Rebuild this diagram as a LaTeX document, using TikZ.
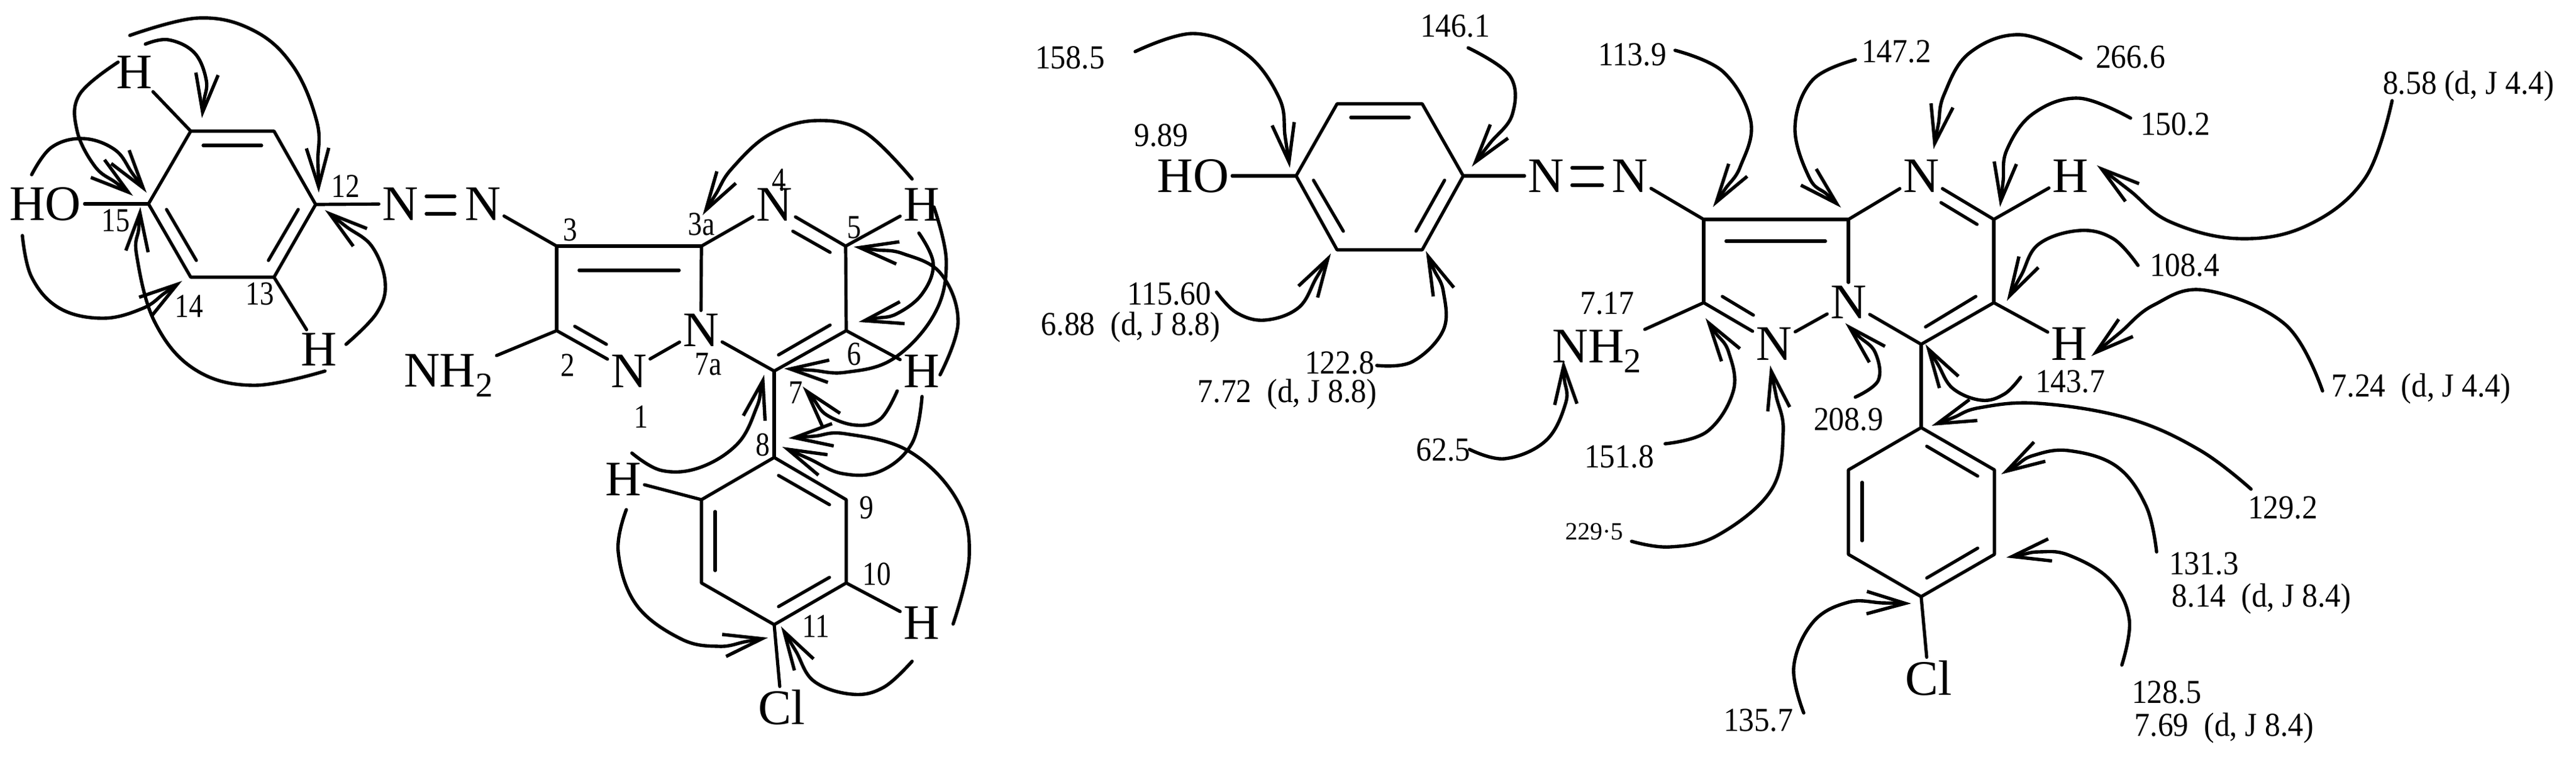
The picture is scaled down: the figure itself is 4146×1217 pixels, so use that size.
\documentclass[tikz,border=0pt]{standalone}
\usepackage{fontspec}
\setmainfont{Liberation Serif}
\usetikzlibrary{arrows.meta,bending,calc}
\tikzset{
  bond/.style={line width=2.6pt,line cap=round,line join=round},
  inner/.style={line width=2.6pt,line cap=round},
  curvearrow/.style={line width=2.7pt,line cap=round,-{Straight Barb[length=31pt,width=18pt,line width=2.7pt,flex]}},
  atom/.style={inner sep=2.5pt,font=\fontsize{40}{40}\selectfont},
  shift label/.style={inner sep=0pt,font=\fontsize{27}{27}\selectfont},
  num/.style={inner sep=0pt,font=\fontsize{27}{27}\selectfont},
}
\newcommand{\subtwo}{\raisebox{-8pt}{\fontsize{28}{28}\selectfont 2}}
\newcommand{\cn}[1]{\scalebox{.84}[1]{#1}}
\newcommand{\rlab}[1]{\scalebox{.92}[1]{#1}}
\newcommand{\carrow}[5]{%
  \coordinate (#1s) at (#2);
  \coordinate (#1l) at (#4);
  \coordinate (#1e) at (#5);
  \coordinate (#1m) at ($(#1l)!.55!(#1e)$);
  \draw[curvearrow] plot[smooth,tension=.65] coordinates {(#1s) #3 (#1l) (#1m) (#1e)};}
\newcommand{\innerb}[2]{\draw[inner] (#1) -- (#2);}
\begin{document}
\begin{tikzpicture}[x=0.5pt,y=-0.5pt]
\useasboundingbox (0,0) rectangle (4146,1217);
% ============ LEFT STRUCTURE ============
\coordinate (c15) at (239,328);
\coordinate (c16) at (307,211);
\coordinate (c17) at (441,211);
\coordinate (c12) at (508,329);
\coordinate (c13) at (441,446);
\coordinate (c14) at (307,446);
\coordinate (c3) at (896,396);
\coordinate (c3a) at (1129,396);
\coordinate (c2) at (896,532);
\coordinate (c5) at (1361,396);
\coordinate (c6) at (1362,532);
\coordinate (c7) at (1246,597);
\coordinate (c8) at (1246,736);
\coordinate (c9) at (1362,804);
\coordinate (c10) at (1362,938);
\coordinate (c11) at (1246,1005);
\coordinate (c11b) at (1129,938);
\coordinate (c8b) at (1129,804);
\node[atom] (lHO) at (73,328) {HO};
\node[atom] (lHa) at (216,116) {H};
\node[atom] (lHb) at (513,562) {H};
\node[atom] (lNa) at (644,328) {N};
\node[atom] (lNb) at (777,328) {N};
\node[atom] (lNH) at (722,604) {NH\subtwo};
\node[atom] (lN1) at (1012,597) {N};
\node[atom] (lN7) at (1128,531) {N};
\node[atom] (lN4) at (1246,329) {N};
\node[atom] (lH5) at (1483,329) {H};
\node[atom] (lH6) at (1483,597) {H};
\node[atom] (lH8) at (1003,771) {H};
\node[atom] (lH10) at (1483,1002) {H};
\node[atom] (lCl) at (1258,1138) {Cl};
\draw[bond] (c15) -- (c16) -- (c17) -- (c12) -- (c13) -- (c14) -- cycle;
\innerb{327,234}{421,234}
\innerb{268,337}{316,419}
\innerb{480,337}{432,419}
\draw[bond] (lHO) -- (c15);
\draw[bond] (lHa) -- (c16);
\draw[bond] (lHb) -- (c13);
\draw[bond] (c12) -- (lNa);
\draw[inner] (686,316) -- (732,316);
\draw[inner] (686,344) -- (732,344);
\draw[bond] (lNb) -- (c3);
\draw[bond] (c3) -- (c3a);
\draw[bond] (c3) -- (c2);
\innerb{932,435}{1093,435}
\draw[bond] (c2) -- (lNH);
\draw[bond] (c2) -- (lN1);
\innerb{925,525}{976,554}
\draw[bond] (lN1) -- (lN7);
\draw[bond] (c3a) -- (lN7);
\draw[bond] (c3a) -- (lN4);
\draw[bond] (lN4) -- (c5);
\innerb{1276,372}{1336,406}
\draw[bond] (c5) -- (lH5);
\draw[bond] (c5) -- (c6);
\draw[bond] (c6) -- (c7);
\innerb{1336,523}{1253,571}
\draw[bond] (c6) -- (lH6);
\draw[bond] (c7) -- (lN7);
\draw[bond] (c7) -- (c8);
\draw[bond] (c8) -- (c9) -- (c10) -- (c11) -- (c11b) -- (c8b) -- cycle;
\innerb{1253,765}{1335,812}
\innerb{1151,823}{1151,918}
\innerb{1253,976}{1335,929}
\draw[bond] (lH8) -- (c8b);
\draw[bond] (c10) -- (lH10);
\draw[bond] (c11) -- (lCl);
% left numbers
\node[num] (n12) at (556,300) {\cn{12}};
\node[num] (n15) at (186,355) {\cn{15}};
\node[num] (n14) at (304,493) {\cn{14}};
\node[num] (n13) at (418,473) {\cn{13}};
\node[num] (n3) at (918,370) {\cn{3}};
\node[num] (n2) at (914,588) {\cn{2}};
\node[num] (n4) at (1254,290) {\cn{4}};
\node[num] (n3a) at (1129,361) {\cn{3a}};
\node[num] (n5) at (1375,366) {\cn{5}};
\node[num] (n6) at (1375,570) {\cn{6}};
\node[num] (n7a) at (1140,586) {\cn{7a}};
\node[num] (n1) at (1032,671) {\cn{1}};
\node[num] (n7) at (1281,632) {\cn{7}};
\node[num] (n8) at (1228,716) {\cn{8}};
\node[num] (n9) at (1395,817) {\cn{9}};
\node[num] (n10) at (1411,924) {\cn{10}};
\node[num] (n11) at (1313,1008) {\cn{11}};
% left arrows
\carrow{a1}{209,57}{(319,29) (408,49) (472,107)}{510,196}{513,310}
\carrow{a2}{234,71}{(271,64) (313,85)}{332,129}{325,190}
\carrow{a3}{190,100}{(128,152) (124,210)}{153,268}{214,315}
\carrow{a4}{51,281}{(83,237) (134,223)}{185,241}{236,310}
\carrow{a5}{36,379}{(51,446) (96,496) (166,512)}{230,496}{293,452}
\carrow{a6}{523,597}{(408,620) (313,594) (249,518)}{220,411}{226,333}
\carrow{a7}{557,554}{(606,504) (620,455)}{599,397}{523,338}
\carrow{b1}{1468,288}{(1392,213) (1315,194) (1239,216)}{1178,271}{1131,346}
\carrow{b2}{1479,375}{(1502,424) (1484,473)}{1443,505}{1382,518}
\carrow{b3}{1503,333}{(1523,421) (1504,505) (1438,577)}{1361,599}{1262,593}
\carrow{b4}{1513,603}{(1542,518) (1514,440)}{1453,408}{1374,397}
\carrow{b5}{1444,629}{(1417,674) (1377,684)}{1331,668}{1292,622}
\carrow{b6}{1484,638}{(1468,713) (1417,758)}{1356,762}{1259,719}
\carrow{b7}{1534,1004}{(1560,895) (1540,804) (1463,726)}{1361,698}{1269,705}
\carrow{b8}{1017,729}{(1065,757) (1127,752) (1188,713)}{1218,655}{1230,603}
\carrow{b9}{1008,820}{(995,888) (1024,973) (1096,1028)}{1157,1040}{1236,1026}
\carrow{b10}{1468,1064}{(1422,1106) (1371,1117)}{1310,1096}{1257,1008}
% ============ RIGHT STRUCTURE ============
\coordinate (r15) at (2086,283);
\coordinate (r16) at (2152,167);
\coordinate (r17) at (2289,167);
\coordinate (r12) at (2355,283);
\coordinate (r13) at (2289,402);
\coordinate (r14) at (2152,402);
\coordinate (r3) at (2742,353);
\coordinate (r3a) at (2975,353);
\coordinate (r2) at (2742,487);
\coordinate (r5) at (3209,353);
\coordinate (r6) at (3209,487);
\coordinate (r7) at (3092,554);
\coordinate (r8) at (3092,688);
\coordinate (r9) at (3210,756);
\coordinate (r10) at (3210,892);
\coordinate (r11) at (3092,960);
\coordinate (r11b) at (2975,892);
\coordinate (r8b) at (2975,756);
\node[atom] (rHO) at (1920,283) {HO};
\node[atom] (rNa) at (2488,283) {N};
\node[atom] (rNb) at (2623,283) {N};
\node[atom] (rNH) at (2570,565) {NH\subtwo};
\node[atom] (rN1) at (2855,553) {N};
\node[atom] (rN7) at (2975,486) {N};
\node[atom] (rN4) at (3092,283) {N};
\node[atom] (rH5) at (3332,283) {H};
\node[atom] (rH6) at (3330,553) {H};
\node[atom] (rCl) at (3104,1091) {Cl};
\draw[bond] (r15) -- (r16) -- (r17) -- (r12) -- (r13) -- (r14) -- cycle;
\innerb{2174,189}{2268,189}
\innerb{2114,290}{2162,372}
\innerb{2325,290}{2279,372}
\draw[bond] (rHO) -- (r15);
\draw[bond] (r12) -- (rNa);
\draw[inner] (2530,270) -- (2579,270);
\draw[inner] (2530,298) -- (2579,298);
\draw[bond] (rNb) -- (r3);
\draw[bond] (r3) -- (r3a);
\draw[bond] (r3) -- (r2);
\innerb{2778,388}{2938,388}
\draw[bond] (r2) -- (rNH);
\draw[bond] (r2) -- (rN1);
\innerb{2772,477}{2822,507}
\draw[bond] (rN1) -- (rN7);
\draw[bond] (r3a) -- (rN7);
\draw[bond] (r3a) -- (rN4);
\draw[bond] (rN4) -- (r5);
\innerb{3124,326}{3182,361}
\draw[bond] (r5) -- (rH5);
\draw[bond] (r5) -- (r6);
\draw[bond] (r6) -- (r7);
\innerb{3180,477}{3099,526}
\draw[bond] (r6) -- (rH6);
\draw[bond] (r7) -- (rN7);
\draw[bond] (r7) -- (r8);
\draw[bond] (r8) -- (r9) -- (r10) -- (r11) -- (r11b) -- (r8b) -- cycle;
\innerb{3101,718}{3183,766}
\innerb{3183,882}{3101,930}
\innerb{2997,776}{2997,870}
\draw[bond] (r11) -- (rCl);
% right labels
\node[shift label] (t1) at (1722,93) {\rlab{158.5}};
\node[shift label] (t2) at (1869,218) {\rlab{9.89}};
\node[shift label] (t3) at (2342,42) {\rlab{146.1}};
\node[shift label] (t4) at (2627,88) {\rlab{113.9}};
\node[shift label] (t5) at (1882,473) {\rlab{115.60}};
\node[shift label] (t6) at (1820,527) {\rlab{6.88\ \ (d, J 8.8)}};
\node[shift label] (t7) at (2156,584) {\rlab{122.8}};
\node[shift label] (t8) at (2072,635) {\rlab{7.72\ \ (d, J 8.8)}};
\node[shift label] (t9) at (2587,488) {\rlab{7.17}};
\node[shift label] (t10) at (2323,724) {\rlab{62.5}};
\node[shift label] (t11) at (2606,735) {\rlab{151.8}};
\node[shift label] (t12) at (3052,83) {\rlab{147.2}};
\node[shift label] (t13) at (3429,92) {\rlab{266.6}};
\node[shift label] (t14) at (3973,139) {\rlab{8.58 (d, J 4.4)}};
\node[shift label] (t15) at (3501,200) {\rlab{150.2}};
\node[shift label] (t16) at (3516,427) {\rlab{108.4}};
\node[shift label] (t17) at (3332,614) {\rlab{143.7}};
\node[shift label] (t18) at (3897,626) {\rlab{7.24\ \ (d, J 4.4)}};
\node[shift label] (t19) at (2975,675) {\rlab{208.9}};
\node[shift label] (t20) at (2830,1159) {\rlab{135.7}};
\node[shift label] (t21) at (3487,1114) {\rlab{128.5}};
\node[shift label] (t22) at (3580,1171) {\rlab{7.69\ \ (d, J 8.4)}};
\node[shift label] (t23) at (3547,907) {\rlab{131.3}};
\node[shift label] (t24) at (3640,963) {\rlab{8.14\ \ (d, J 8.4)}};
\node[shift label] (t25) at (3674,817) {\rlab{129.2}};
\node[inner sep=0pt,font=\fontsize{20}{20}\selectfont] (t26) at (2566,855) {229·5};
% right arrows
\carrow{c1}{1827,83}{(1921,54) (2006,87)}{2059,158}{2076,270}
\carrow{c2}{2363,77}{(2430,122)}{2434,184}{2369,268}
\carrow{c3}{2696,81}{(2774,116) (2818,196)}{2801,268}{2757,333}
\carrow{c4}{1958,470}{(1990,503) (2036,515)}{2090,495}{2142,408}
\carrow{c5}{2216,588}{(2273,582) (2323,531)}{2323,469}{2295,404}
\carrow{c6}{2365,723}{(2422,738) (2488,709)}{2520,648}{2516,579}
\carrow{c7}{2680,714}{(2748,694) (2790,628)}{2782,566}{2745,512}
\carrow{d1}{2986,96}{(2917,129) (2889,205)}{2912,286}{2963,334}
\carrow{d2}{3349,94}{(3253,56) (3170,85)}{3129,152}{3112,240}
\carrow{d3}{3429,190}{(3346,158) (3272,183)}{3230,241}{3219,333}
\carrow{d4}{3850,162}{(3807,286) (3715,362) (3604,384)}{3493,357}{3375,266}
\carrow{d5}{3441,427}{(3401,384) (3346,371)}{3281,393}{3230,484}
\carrow{d6}{3738,629}{(3678,522) (3549,467)}{3466,491}{3366,573}
\carrow{d7}{3252,607}{(3226,634) (3189,644)}{3143,625}{3099,554}
\carrow{d8}{2986,639}{(3023,612)}{3018,567}{2970,520}
\carrow{e1}{2626,871}{(2688,880) (2765,861) (2851,788)}{2870,695}{2849,588}
\carrow{e2}{3623,787}{(3540,724) (3425,673) (3281,649)}{3186,656}{3109,685}
\carrow{e3}{3471,888}{(3454,814) (3406,750) (3329,725)}{3272,733}{3221,763}
\carrow{e4}{3415,1070}{(3427,997) (3396,933) (3329,893)}{3281,888}{3229,897}
\carrow{e5}{2903,1147}{(2887,1073) (2918,1001)}{2975,969}{3076,971}
\end{tikzpicture}
\end{document}
